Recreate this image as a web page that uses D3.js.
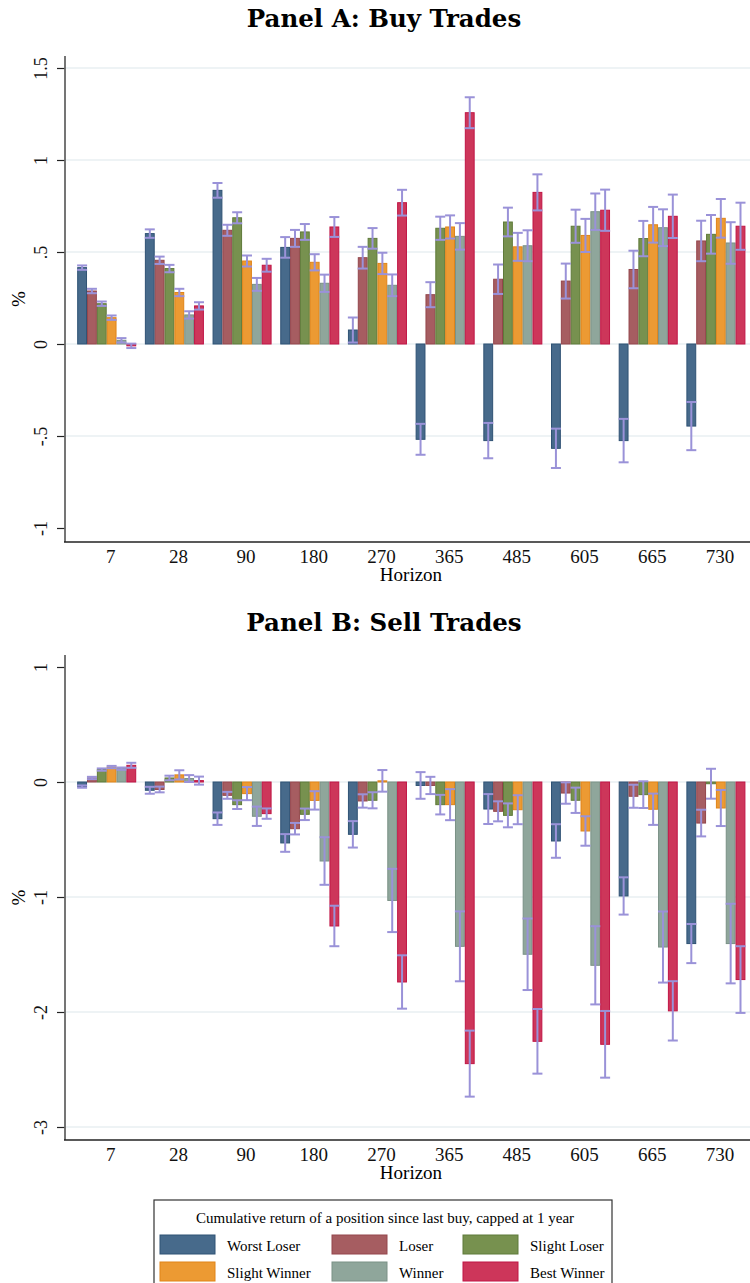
<!DOCTYPE html>
<html>
<head>
<meta charset="utf-8">
<script src="https://cdn.jsdelivr.net/npm/d3@7"></script>
<style>
  body { margin: 0; background: #fff; }
  svg { display: block; }
</style>
</head>
<body>
<svg id="chart" width="750" height="1283"></svg>
<script>
//Categories
const horizons = ["7", "28", "90", "180", "270", "365", "485", "605", "665", "730"];
const groups = ["Worst Loser", "Loser", "Slight Loser", "Slight Winner", "Winner", "Best Winner"];

//Panel A: buy trades, mean (%) per horizon
const worstLoserBuy   = [0.415, 0.60, 0.835, 0.525, 0.076, -0.518, -0.525, -0.567, -0.525, -0.446];
const loserBuy        = [0.288, 0.455, 0.618, 0.574, 0.469, 0.268, 0.352, 0.342, 0.405, 0.56];
const slightLoserBuy  = [0.219, 0.41, 0.686, 0.609, 0.574, 0.629, 0.663, 0.64, 0.573, 0.596];
const slightWinnerBuy = [0.143, 0.28, 0.451, 0.444, 0.438, 0.636, 0.528, 0.59, 0.648, 0.683];
const winnerBuy       = [0.02, 0.158, 0.324, 0.33, 0.319, 0.585, 0.534, 0.719, 0.632, 0.549];
const bestWinnerBuy   = [-0.01, 0.207, 0.428, 0.636, 0.768, 1.257, 0.824, 0.727, 0.694, 0.64];

//Panel A: half width of the confidence interval
const worstLoserBuyErr   = [0.012, 0.023, 0.04, 0.056, 0.068, 0.084, 0.096, 0.107, 0.118, 0.131];
const loserBuyErr        = [0.012, 0.02, 0.03, 0.046, 0.059, 0.068, 0.08, 0.095, 0.102, 0.11];
const slightLoserBuyErr  = [0.012, 0.02, 0.03, 0.043, 0.056, 0.063, 0.078, 0.09, 0.096, 0.105];
const slightWinnerBuyErr = [0.012, 0.02, 0.03, 0.044, 0.058, 0.063, 0.076, 0.09, 0.097, 0.105];
const winnerBuyErr       = [0.012, 0.02, 0.035, 0.047, 0.059, 0.072, 0.084, 0.099, 0.10, 0.113];
const bestWinnerBuyErr   = [0.012, 0.02, 0.035, 0.054, 0.07, 0.084, 0.098, 0.112, 0.118, 0.128];

//Panel B: sell trades, mean (%) per horizon
const worstLoserSell   = [-0.04, -0.072, -0.319, -0.53, -0.455, -0.03, -0.235, -0.513, -0.991, -1.405];
const loserSell        = [0.035, -0.065, -0.116, -0.406, -0.165, -0.03, -0.255, -0.096, -0.124, -0.357];
const slightLoserSell  = [0.108, 0.035, -0.197, -0.281, -0.159, -0.197, -0.29, -0.159, -0.11, -0.015];
const slightWinnerSell = [0.13, 0.062, -0.101, -0.16, 0.01, -0.197, -0.241, -0.426, -0.237, -0.226];
const winnerSell       = [0.116, 0.03, -0.298, -0.687, -1.03, -1.429, -1.498, -1.594, -1.435, -1.405];
const bestWinnerSell   = [0.145, 0.012, -0.275, -1.252, -1.739, -2.449, -2.255, -2.281, -1.99, -1.718];

//Panel B: half width of the confidence interval
const worstLoserSellErr   = [0.01, 0.03, 0.054, 0.077, 0.115, 0.116, 0.13, 0.146, 0.162, 0.17];
const loserSellErr        = [0.01, 0.025, 0.03, 0.05, 0.058, 0.075, 0.087, 0.093, 0.10, 0.116];
const slightLoserSellErr  = [0.01, 0.02, 0.038, 0.05, 0.07, 0.085, 0.104, 0.11, 0.116, 0.13];
const slightWinnerSellErr = [0.01, 0.04, 0.057, 0.08, 0.094, 0.135, 0.126, 0.128, 0.136, 0.157];
const winnerSellErr       = [0.01, 0.03, 0.084, 0.207, 0.275, 0.304, 0.311, 0.34, 0.309, 0.346];
const bestWinnerSellErr   = [0.022, 0.035, 0.045, 0.176, 0.232, 0.287, 0.281, 0.29, 0.258, 0.29];

//Tick values
const buyTicks = [-1, -0.5, 0, 0.5, 1, 1.5];
const sellTicks = [-3, -2, -1, 0, 1];

const fills   = ["#476a8b", "#a65d61", "#77914f", "#ec9a33", "#8fa69b", "#cd365a"];
const strokes = ["#2f5274", "#94464c", "#5f7a3a", "#e08418", "#7a9186", "#c01545"];
const errColor = "#9a92d8";
const serif = "'Liberation Serif', 'Times New Roman', serif";

const svg = d3.select("#chart");

function fmtTick(v) {
    //Stata style: .5, -.5
    let s = String(v);
    return s.replace(/^0\./, ".").replace(/^-0\./, "-.");
}

function drawPanel(p) {
    let x = d3.scaleBand()
	.domain(horizons)
	.range([65, 757.6])
	.paddingInner(0.128)
	.paddingOuter(0.18);
    let xs = d3.scaleBand()
	.domain(groups)
	.range([0, x.bandwidth()]);
    let y = d3.scaleLinear().domain(p.domain).range(p.range);

    let g = svg.append("g");

    //Grid lines
    g.selectAll("line.grid")
	.data(p.grid)
	.enter().append("line")
	.attr("class", "grid")
	.attr("x1", 66).attr("x2", 750)
	.attr("y1", d => y(d)).attr("y2", d => y(d))
	.attr("stroke", "#e9eff2")
	.attr("stroke-width", 1.6);

    //Bars
    let rows = [];
    p.series.forEach((vals, si) => {
	vals.forEach((v, hi) => {
	    rows.push({h: horizons[hi], s: groups[si], si: si, v: v, e: p.errors[si][hi]});
	});
    });

    g.selectAll("rect.bar")
	.data(rows)
	.enter().append("rect")
	.attr("class", "bar")
	.attr("x", d => x(d.h) + xs(d.s) + 0.5)
	.attr("width", xs.bandwidth() - 1)
	.attr("y", d => Math.min(y(d.v), y(0)))
	.attr("height", d => Math.abs(y(d.v) - y(0)))
	.attr("fill", d => fills[d.si])
	.attr("stroke", d => strokes[d.si])
	.attr("stroke-width", 1);

    //Error bars
    let eg = g.selectAll("g.err")
	.data(rows)
	.enter().append("g")
	.attr("class", "err")
	.attr("stroke", errColor)
	.attr("stroke-width", 2);
    let cx = d => x(d.h) + xs(d.s) + xs.bandwidth() / 2;
    eg.append("line")
	.attr("x1", cx).attr("x2", cx)
	.attr("y1", d => y(d.v - d.e)).attr("y2", d => y(d.v + d.e));
    eg.append("line")
	.attr("x1", d => cx(d) - 5).attr("x2", d => cx(d) + 5)
	.attr("y1", d => y(d.v - d.e)).attr("y2", d => y(d.v - d.e));
    eg.append("line")
	.attr("x1", d => cx(d) - 5).attr("x2", d => cx(d) + 5)
	.attr("y1", d => y(d.v + d.e)).attr("y2", d => y(d.v + d.e));

    //Y axis
    let ya = g.append("g")
	.attr("transform", "translate(65,0)")
	.call(d3.axisLeft(y).tickValues(p.ticks).tickSize(8).tickFormat(fmtTick));
    ya.select(".domain").remove();
    ya.selectAll(".tick line").attr("stroke", "#222").attr("stroke-width", 1.2);
    ya.selectAll(".tick text")
	.attr("x", null).attr("dy", null)
	.attr("transform", "translate(-18,0) rotate(-90)")
	.attr("text-anchor", "middle")
	.attr("font-family", serif)
	.attr("font-size", 18)
	.attr("fill", "#111");
    g.append("line")
	.attr("x1", 65).attr("x2", 65)
	.attr("y1", p.top).attr("y2", p.bottom)
	.attr("stroke", "#666").attr("stroke-width", 1.8);

    //X axis
    let xa = g.append("g")
	.attr("transform", "translate(0," + p.bottom + ")")
	.call(d3.axisBottom(x).tickSize(0).tickPadding(0));
    xa.select(".domain").remove();
    xa.selectAll(".tick text")
	.attr("y", 21).attr("dy", null).attr("x", 4)
	.attr("font-family", serif)
	.attr("font-size", 19)
	.attr("fill", "#111");
    g.append("line")
	.attr("x1", 64).attr("x2", 750)
	.attr("y1", p.bottom).attr("y2", p.bottom)
	.attr("stroke", "#222").attr("stroke-width", 1.4);

    g.append("text")
	.attr("x", 411).attr("y", p.bottom + 39)
	.attr("text-anchor", "middle")
	.attr("font-family", serif).attr("font-size", 19)
	.text("Horizon");

    g.append("text")
	.attr("transform", "translate(25," + ((p.top + p.bottom) / 2) + ") rotate(-90)")
	.attr("text-anchor", "middle")
	.attr("font-family", serif).attr("font-size", 19)
	.text("%");

    svg.append("text")
	.attr("x", 384).attr("y", p.titleY)
	.attr("text-anchor", "middle")
	.attr("font-family", "'DejaVu Serif', serif")
	.attr("font-weight", "bold")
	.attr("font-size", 24.5)
	.text(p.title);
}

drawPanel({
    title: "Panel A: Buy Trades", titleY: 27,
    series: [worstLoserBuy, loserBuy, slightLoserBuy, slightWinnerBuy, winnerBuy, bestWinnerBuy],
    errors: [worstLoserBuyErr, loserBuyErr, slightLoserBuyErr, slightWinnerBuyErr, winnerBuyErr, bestWinnerBuyErr],
    domain: [-1, 1.5], range: [528, 68],
    ticks: buyTicks, grid: [-0.5, 0, 0.5, 1, 1.5],
    top: 56, bottom: 542
});

drawPanel({
    title: "Panel B: Sell Trades", titleY: 631,
    series: [worstLoserSell, loserSell, slightLoserSell, slightWinnerSell, winnerSell, bestWinnerSell],
    errors: [worstLoserSellErr, loserSellErr, slightLoserSellErr, slightWinnerSellErr, winnerSellErr, bestWinnerSellErr],
    domain: [-3, 1], range: [1127, 667],
    ticks: sellTicks, grid: [-3, -2, -1, 0],
    top: 655, bottom: 1140
});

//Legend
let lg = svg.append("g");
lg.append("rect")
    .attr("x", 154).attr("y", 1200)
    .attr("width", 458).attr("height", 100)
    .attr("fill", "#fff")
    .attr("stroke", "#333").attr("stroke-width", 1.2);
lg.append("text")
    .attr("x", 385).attr("y", 1223)
    .attr("text-anchor", "middle")
    .attr("font-family", serif).attr("font-size", 15)
    .text("Cumulative return of a position since last buy, capped at 1 year");

let colX = [160, 332, 463];
let rowY = [1235, 1262];
let items = lg.selectAll("g.item")
    .data(groups)
    .enter().append("g")
    .attr("class", "item")
    .attr("transform", (d, i) => "translate(" + colX[i % 3] + "," + rowY[Math.floor(i / 3)] + ")");
items.append("rect")
    .attr("width", 55).attr("height", 19)
    .attr("fill", (d, i) => fills[i])
    .attr("stroke", (d, i) => strokes[i]).attr("stroke-width", 1);
items.append("text")
    .attr("x", 67).attr("y", 16)
    .attr("font-family", serif).attr("font-size", 15)
    .text(d => d);
</script>
</body>
</html>
